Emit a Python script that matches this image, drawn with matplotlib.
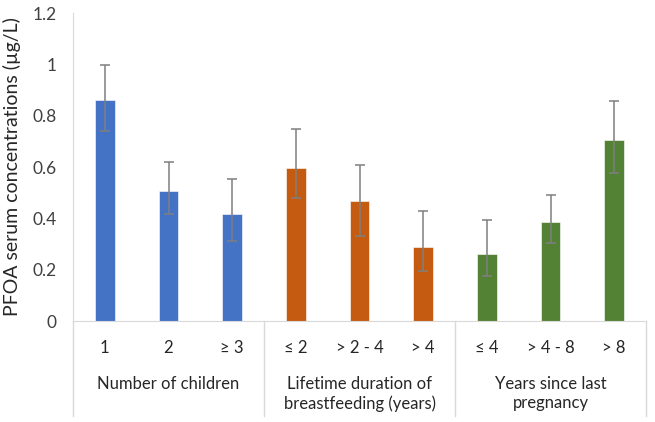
import numpy as np
import matplotlib.pyplot as plt

# data
categories = ["1", "2", "≥ 3", "≤ 2", "> 2 - 4", "> 4", "≤ 4", "> 4 - 8", "> 8"]
means = [0.86, 0.506, 0.416, 0.597, 0.467, 0.289, 0.262, 0.387, 0.705]
upper = [0.997, 0.621, 0.553, 0.747, 0.608, 0.429, 0.393, 0.491, 0.857]
lower = [0.741, 0.416, 0.313, 0.478, 0.331, 0.196, 0.175, 0.305, 0.578]
groups = ["Number of children", "Lifetime duration of\nbreastfeeding (years)",
          "Years since last\npregnancy"]
group_colors = ["#4472C4", "#C55A11", "#548235"]
group_size = 3

plt.rcParams['font.family'] = ['Lato', 'DejaVu Sans']

x = np.arange(len(categories))
colors = [c for c in group_colors for _ in range(group_size)]
yerr = np.array([np.array(means) - np.array(lower), np.array(upper) - np.array(means)])

fig = plt.figure(figsize=(6.55, 4.22), dpi=100)
ax = fig.add_axes([73/655, 1 - 321/422, 573/655, 308/422])

ax.bar(x, means, width=0.31, color=colors, edgecolor="white", linewidth=0.4, zorder=2)
ax.errorbar(x, means, yerr=yerr, fmt="none", ecolor="#7f7f7f", elinewidth=1.1,
            capsize=3.5, capthick=1.1, zorder=3)

ax.set_xlim(-0.5, len(categories) - 0.5)
ax.set_ylim(0, 1.2)
ax.set_yticks([0, 0.2, 0.4, 0.6, 0.8, 1.0, 1.2])
ax.set_yticklabels(["0", "0.2", "0.4", "0.6", "0.8", "1", "1.2"], fontsize=12.5, color="#404040")
ax.tick_params(axis="y", length=0, pad=12)
ax.set_xticks(x)
ax.set_xticklabels(categories, fontsize=12, color="#262626")
ax.tick_params(axis="x", length=0, pad=14)
ax.set_ylabel("PFOA serum concentrations (µg/L)", fontsize=14, color="#262626", labelpad=8)

for s in ["top", "right"]:
    ax.spines[s].set_visible(False)
ax.spines["bottom"].set_color("#d9d9d9")
ax.spines["left"].set_color("#d9d9d9")

# group separators and labels below the axis
for k in range(len(groups) + 1):
    xs = k * group_size - 0.5
    ax.plot([xs, xs], [0, -0.37], color="#d9d9d9", lw=1, clip_on=False,
            transform=ax.get_xaxis_transform() if False else ax.transData)
for k, g in enumerate(groups):
    xc = k * group_size + (group_size - 1) / 2
    ax.text(xc, -0.215, g, ha="center", va="top", fontsize=12, color="#262626",
            linespacing=1.25)

fig.savefig("out.png", dpi=100)
